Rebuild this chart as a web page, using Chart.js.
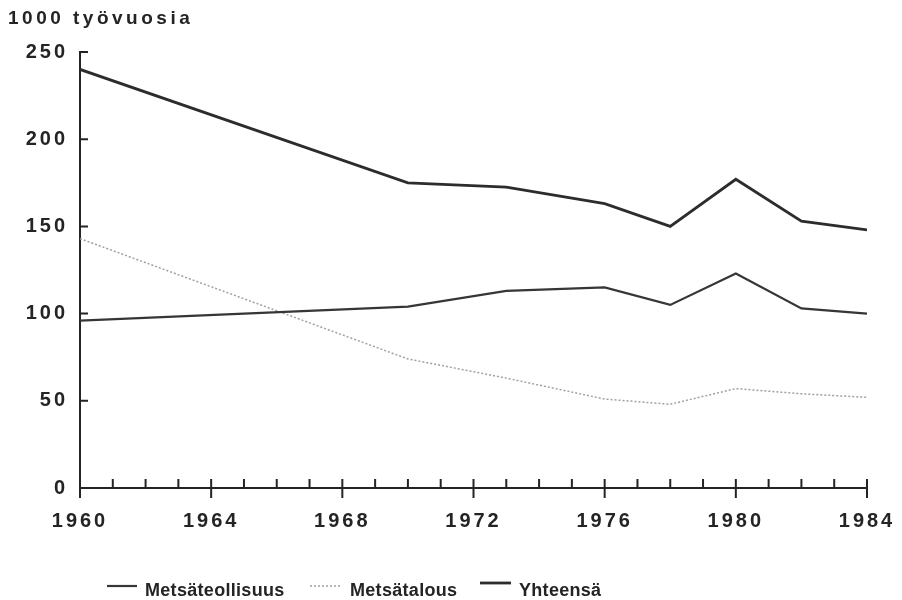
<!DOCTYPE html>
<html>
<head>
<meta charset="utf-8">
<script src="https://cdn.jsdelivr.net/npm/chart.js@4"></script>
<style>
  html, body { margin: 0; padding: 0; background: #fff; }
  #wrap { width: 902px; height: 600px; }
</style>
</head>
<body>
<div id="wrap"><canvas id="chart" width="902" height="600"></canvas></div>
<script>
// ── Data ─────────────────────────────────────────────────────────────────────
const years = [1960, 1970, 1973, 1976, 1978, 1980, 1982, 1984];
const metsateollisuus = [96, 104, 113, 115, 105, 123, 103, 100];
const metsatalous = [143, 74, 63, 51, 48, 57, 54, 52];
const yhteensa = [240, 175, 172.5, 163, 150, 177, 153, 148];

const xTicks = [1960, 1964, 1968, 1972, 1976, 1980, 1984];
const yTicks = [0, 50, 100, 150, 200, 250];

const seriesNames = ["Metsäteollisuus", "Metsätalous", "Yhteensä"];
const yTitle = "1000 työvuosia";

// ── Styles ───────────────────────────────────────────────────────────────────
const INK = "#242424";
const FONT = '"Liberation Sans", Arial, Helvetica, sans-serif';

const toPoints = (vals) => years.map((y, i) => ({ x: y, y: vals[i] }));

const seriesStyles = [
  { borderColor: "#363636", borderWidth: 2.2, borderDash: [] },
  { borderColor: "#a0a0a0", borderWidth: 1.5, borderDash: [2, 2] },
  { borderColor: "#2c2c2c", borderWidth: 2.8, borderDash: [] },
];

// ── Plugins ──────────────────────────────────────────────────────────────────
const spacingPlugin = {
  id: "spacing",
  beforeDraw(chart) {
    chart.ctx.letterSpacing = "3px";
  },
};

const tickPlugin = {
  id: "ticks",
  afterDraw(chart) {
    const { ctx, chartArea, scales } = chart;
    ctx.save();
    ctx.strokeStyle = INK;
    ctx.lineWidth = 2;
    ctx.beginPath();
    for (let yr = scales.x.min; yr <= scales.x.max; yr++) {
      const px = scales.x.getPixelForValue(yr);
      const major = xTicks.includes(yr);
      ctx.moveTo(px, chartArea.bottom - 9);
      ctx.lineTo(px, chartArea.bottom + (major ? 10 : 0));
    }
    yTicks.forEach((v) => {
      if (v === 0) return;
      const py = scales.y.getPixelForValue(v);
      ctx.moveTo(chartArea.left, py);
      ctx.lineTo(chartArea.left + 8, py);
    });
    ctx.stroke();
    ctx.restore();
  },
};

const textPlugin = {
  id: "texts",
  afterDraw(chart) {
    const { ctx } = chart;
    ctx.save();
    ctx.fillStyle = INK;
    ctx.textBaseline = "alphabetic";
    ctx.textAlign = "left";

    // axis title
    ctx.letterSpacing = "3.5px";
    ctx.font = `bold 19px ${FONT}`;
    ctx.fillText(yTitle, 8, 24);

    // legend
    ctx.letterSpacing = "0.3px";
    ctx.font = `bold 18px ${FONT}`;
    const items = [
      { x0: 107, x1: 137, tx: 145, ly: 586 },
      { x0: 310, x1: 340, tx: 350, ly: 586 },
      { x0: 480, x1: 511, tx: 519, ly: 583 },
    ];
    items.forEach((it, i) => {
      const st = seriesStyles[i];
      ctx.strokeStyle = st.borderColor;
      ctx.lineWidth = st.borderWidth;
      ctx.setLineDash(st.borderDash);
      ctx.beginPath();
      ctx.moveTo(it.x0, it.ly);
      ctx.lineTo(it.x1, it.ly);
      ctx.stroke();
      ctx.fillText(seriesNames[i], it.tx, 596);
    });
    ctx.restore();
  },
};

// ── Chart ────────────────────────────────────────────────────────────────────
const datasets = [metsateollisuus, metsatalous, yhteensa].map((vals, i) => ({
  label: seriesNames[i],
  data: toPoints(vals),
  ...seriesStyles[i],
  pointRadius: 0,
  tension: 0,
  fill: false,
}));

new Chart(document.getElementById("chart"), {
  type: "line",
  data: { datasets },
  options: {
    responsive: false,
    animation: false,
    devicePixelRatio: 1,
    layout: { padding: { top: 52, right: 35, left: 0, bottom: 0 } },
    plugins: {
      legend: { display: false },
      title: { display: false },
      tooltip: { enabled: false },
    },
    scales: {
      x: {
        type: "linear",
        min: 1960,
        max: 1984,
        afterBuildTicks: (s) => { s.ticks = xTicks.map((v) => ({ value: v })); },
        afterFit: (s) => { s.height = 112; s.paddingLeft = 0; s.paddingRight = 0; },
        ticks: {
          color: INK,
          font: { family: FONT, size: 20, weight: "bold" },
          padding: 21,
          maxRotation: 0,
          callback: (v) => String(v),
        },
        grid: { display: false, drawTicks: false },
        border: { color: INK, width: 2 },
      },
      y: {
        min: 0,
        max: 250,
        afterBuildTicks: (s) => { s.ticks = yTicks.map((v) => ({ value: v })); },
        afterFit: (s) => { s.width = 80; s.paddingTop = 0; s.paddingBottom = 0; },
        ticks: {
          color: INK,
          font: { family: FONT, size: 20, weight: "bold" },
          padding: 12,
        },
        grid: { display: false, drawTicks: false },
        border: { color: INK, width: 2 },
      },
    },
  },
  plugins: [spacingPlugin, tickPlugin, textPlugin],
});
</script>
</body>
</html>
